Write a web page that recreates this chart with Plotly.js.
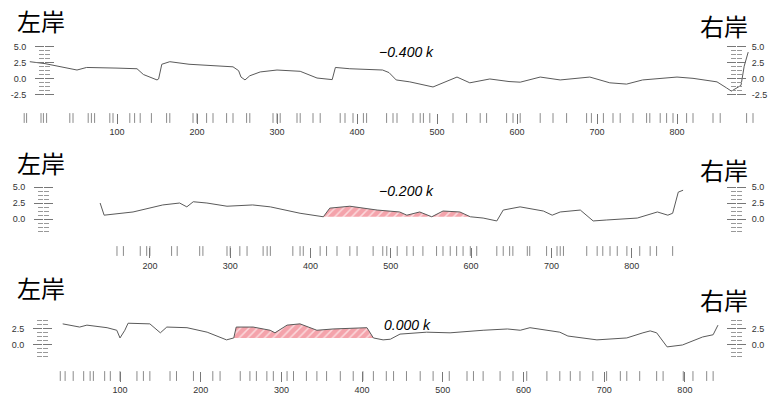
<!DOCTYPE html>
<html>
<head>
<meta charset="utf-8">
<script src="https://cdn.plot.ly/plotly-3.0.1.min.js"></script>
<style>html,body{margin:0;padding:0;background:#fff;}#chart{width:776px;height:394px;}</style>
</head>
<body>
<div id="chart"></div>
<script>
// ---------- data ----------
// Panel 1: -0.400 k
const p1Dist = [-9, 10, 30, 50, 62, 80, 100, 125, 133, 150, 152, 156, 166, 190, 204, 245, 252, 255, 260, 266, 279, 300, 329, 350, 369, 373, 391, 432, 440, 449, 466, 495, 525, 541, 566, 590, 604, 629, 654, 691, 716, 737, 757, 800, 820, 850, 862, 868, 880, 884, 889];
const p1Elev = [2.7, 2.4, 1.9, 1.4, 1.8, 1.8, 1.7, 1.6, 0.7, -0.15, 0.0, 2.3, 2.7, 2.3, 2.2, 1.9, 1.3, 0.3, -0.15, 0.5, 1.1, 1.4, 1.2, 0.15, -0.1, 1.8, 1.6, 1.4, 1.0, -0.15, -0.45, -1.25, 0.3, -0.6, 0.0, -0.4, -0.5, 0.3, -0.15, 0.3, -0.6, -0.8, -0.15, 0.3, 0.1, -0.45, -1.4, -1.9, -1.0, 2.0, 4.2];
const p1Rug = [-16, -13, 5, 8, 12, 41, 45, 64, 68, 72, 91, 95, 116, 122, 129, 143, 162, 166, 195, 200, 212, 220, 237, 245, 262, 266, 295, 300, 304, 325, 329, 345, 354, 379, 385, 395, 408, 412, 437, 445, 450, 470, 479, 483, 491, 520, 537, 554, 562, 587, 595, 604, 629, 645, 662, 687, 693, 708, 720, 729, 745, 762, 766, 779, 787, 795, 812, 820, 845, 854, 887, 895];
const p1Ticks = [100, 200, 300, 400, 500, 600, 700, 800];

// Panel 2: -0.200 k
const p2Dist = [138, 143, 179, 216, 237, 246, 254, 271, 296, 328, 350, 387, 416, 424, 449, 483, 511, 520, 536, 551, 565, 586, 599, 615, 632, 640, 661, 690, 701, 711, 736, 752, 769, 807, 832, 845, 851, 858, 864];
const p2Elev = [2.5, 0.6, 1.1, 2.2, 2.5, 1.9, 2.7, 2.5, 2.0, 2.2, 1.9, 0.9, 0.35, 1.7, 2.0, 1.4, 1.1, 0.6, 1.1, 0.35, 1.25, 1.1, 0.35, 0.15, -0.3, 1.4, 1.9, 1.25, 0.6, 1.1, 1.4, -0.3, -0.15, 0.15, 1.1, 0.6, 0.9, 4.2, 4.5];
const p2Rug = [159, 167, 188, 196, 200, 227, 234, 262, 266, 296, 300, 312, 321, 341, 346, 350, 378, 387, 391, 412, 420, 433, 449, 458, 478, 490, 495, 508, 520, 528, 540, 557, 565, 574, 582, 590, 599, 607, 632, 640, 648, 652, 670, 673, 694, 707, 711, 715, 744, 757, 764, 773, 782, 794, 810, 823, 831, 851];
const p2Ticks = [200, 300, 400, 500, 600, 700, 800];
const p2Water = {from: 416, to: 599, level: 0.35};

// Panel 3: 0.000 k
const p3Dist = [29, 50, 59, 84, 96, 100, 106, 110, 137, 150, 158, 183, 208, 232, 241, 244, 265, 286, 292, 307, 323, 344, 364, 406, 414, 426, 435, 447, 480, 509, 550, 580, 596, 608, 645, 655, 691, 728, 748, 757, 765, 778, 797, 822, 835, 841];
const p3Elev = [3.3, 2.8, 3.1, 2.7, 2.3, 1.1, 2.3, 3.4, 3.3, 1.9, 2.8, 2.7, 2.0, 0.8, 1.1, 2.8, 2.8, 2.3, 1.9, 3.1, 3.3, 2.3, 2.5, 2.7, 1.1, 0.8, 0.9, 1.7, 2.0, 1.9, 2.3, 2.5, 2.3, 2.7, 2.0, 1.4, 0.8, 1.1, 1.9, 2.2, 1.9, -0.3, 0.0, 1.25, 1.6, 3.1];
const p3Rug = [26, 32, 42, 55, 63, 67, 81, 88, 100, 121, 129, 137, 162, 170, 191, 215, 224, 249, 261, 269, 282, 290, 307, 315, 331, 344, 356, 373, 389, 401, 414, 430, 439, 455, 472, 488, 508, 530, 538, 550, 571, 587, 604, 629, 645, 658, 670, 686, 703, 720, 728, 744, 765, 773, 798, 810, 827, 835];
const p3Ticks = [100, 200, 300, 400, 500, 600, 700, 800];
const p3Water = {from: 241, to: 414, level: 1.1};

// y ladders
const ladder1Vals = [5, 2.5, 0, -2.5];
const ladder1Text = ["5.0", "2.5", "0.0", "-2.5"];
const ladder1Minor = [4.375, 3.75, 3.125, 1.875, 1.25, 0.625, -0.625, -1.25, -1.875];
const ladder2Vals = [5, 2.5, 0];
const ladder2Text = ["5.0", "2.5", "0.0"];
const ladder2Minor = [4.375, 3.75, 3.125, 1.875, 1.25, 0.625, -0.625, -1.25, -1.875];
const ladder3Vals = [2.5, 0];
const ladder3Text = ["2.5", "0.0"];
const ladder3Minor = [3.75, 3.125, 1.875, 1.25, 0.625, -0.625, -1.25, -1.875];

const sectionNames = ["\u22120.400 k", "\u22120.200 k", "0.000 k"];

// ---------- layout config ----------
const W = 776, H = 394;
const panels = [
  {dist: p1Dist, elev: p1Elev, rug: p1Rug, ticks: p1Ticks, water: null,
   lv: ladder1Vals, lt: ladder1Text, lm: ladder1Minor,
   xr: [-46.25, 923.75], yr: [-49.22, 12.34], axisY: 113, rugY: -6.1,
   leftX: 44, rightX: 736, name: {x: 406, y: 52}, lb: {y: 20}, rb: {y: 25}},
  {dist: p2Dist, elev: p2Elev, rug: p2Rug, ticks: p2Ticks, water: p2Water,
   lv: ladder2Vals, lt: ladder2Text, lm: ladder2Minor,
   xr: [13.33, 979.7], yr: [-27.34, 34.22], axisY: 247, rugY: -5.0,
   leftX: 43, rightX: 736, name: {x: 406, y: 191}, lb: {y: 162}, rb: {y: 169}},
  {dist: p3Dist, elev: p3Elev, rug: p3Rug, ticks: p3Ticks, water: p3Water,
   lv: ladder3Vals, lt: ladder3Text, lm: ladder3Minor,
   xr: [-48.7, 912.9], yr: [-7.66, 53.91], axisY: 371, rugY: -4.85,
   leftX: 42, rightX: 736, name: {x: 407, y: 325}, lb: {y: 287}, rb: {y: 299}}
];

const tickFont = {family: "Liberation Sans, Arial, sans-serif", size: 9, color: "#333"};
const traces = [];
const layout = {
  width: W, height: H,
  margin: {l: 0, r: 0, t: 0, b: 0},
  paper_bgcolor: "#fff", plot_bgcolor: "rgba(0,0,0,0)",
  showlegend: false,
  annotations: []
};

panels.forEach((p, i) => {
  const xk = i === 0 ? "x" : "x" + (i + 1);
  const xName = i === 0 ? "xaxis" : "xaxis" + (i + 1);
  const yBase = i * 4 + 1;
  const yIds = [0, 1, 2, 3].map(k => { const n = yBase + k; return n === 1 ? "y" : "y" + n; });
  const yNames = [0, 1, 2, 3].map(k => { const n = yBase + k; return n === 1 ? "yaxis" : "yaxis" + n; });

  layout[xName] = {
    domain: [0, 1], range: p.xr, anchor: "free", position: 1 - p.axisY / H,
    tickmode: "array", tickvals: p.ticks, ticks: "outside", ticklen: 10, tickwidth: 1, tickcolor: "#777",
    showline: false, showgrid: false, zeroline: false, tickfont: tickFont, fixedrange: true
  };
  const common = {domain: [0, 1], range: p.yr, anchor: "free", showline: false, showgrid: false,
    zeroline: false, tickmode: "array", tickvals: p.lv, tickwidth: 1, tickcolor: "#777", fixedrange: true};
  layout[yNames[0]] = Object.assign({}, common, {position: p.leftX / W, side: "left",
    ticks: "outside", ticklen: 9, ticktext: p.lt, tickfont: tickFont, ticklabelstandoff: 7,
    minor: {tickmode: "array", tickvals: p.lm, ticks: "outside", ticklen: 5, tickwidth: 1, tickcolor: "#999"}});
  layout[yNames[1]] = Object.assign({}, common, {position: p.leftX / W, side: "left", overlaying: yIds[0],
    ticks: "inside", ticklen: 9, showticklabels: false,
    minor: {tickmode: "array", tickvals: p.lm, ticks: "inside", ticklen: 5, tickwidth: 1, tickcolor: "#999"}});
  layout[yNames[2]] = Object.assign({}, common, {position: p.rightX / W, side: "right", overlaying: yIds[0],
    ticks: "outside", ticklen: 9, ticktext: p.lt, tickfont: tickFont, ticklabelstandoff: 4,
    minor: {tickmode: "array", tickvals: p.lm, ticks: "outside", ticklen: 5, tickwidth: 1, tickcolor: "#999"}});
  layout[yNames[3]] = Object.assign({}, common, {position: p.rightX / W, side: "right", overlaying: yIds[0],
    ticks: "inside", ticklen: 9, showticklabels: false,
    minor: {tickmode: "array", tickvals: p.lm, ticks: "inside", ticklen: 5, tickwidth: 1, tickcolor: "#999"}});

  for (let k = 1; k < 4; k++) {
    traces.push({type: "scatter", mode: "markers", x: [null], y: [null], xaxis: xk, yaxis: yIds[k], hoverinfo: "skip"});
  }

  if (p.water) {
    const w = p.water;
    const sx = [], sy = [];
    p.dist.forEach((d, j) => { if (d >= w.from && d <= w.to) { sx.push(d); sy.push(p.elev[j]); } });
    traces.push({type: "scatter", mode: "lines", x: [w.from, w.to], y: [w.level, w.level],
      xaxis: xk, yaxis: yIds[0], line: {width: 0, color: "rgba(0,0,0,0)"}, hoverinfo: "skip"});
    traces.push({type: "scatter", mode: "lines", x: sx, y: sy, xaxis: xk, yaxis: yIds[0],
      fill: "tonexty", fillcolor: "#f4a3ab",
      fillpattern: {shape: "/", fgcolor: "#fbd9dc", bgcolor: "#f4a3ab", size: 6, solidity: 0.25},
      line: {width: 0, color: "rgba(0,0,0,0)"}, hoverinfo: "skip"});
  }

  traces.push({type: "scatter", mode: "lines", x: p.dist, y: p.elev, xaxis: xk, yaxis: yIds[0],
    line: {color: "#5a5a5a", width: 1}, hoverinfo: "skip"});

  traces.push({type: "scatter", mode: "markers", x: p.rug, y: p.rug.map(() => p.rugY), xaxis: xk, yaxis: yIds[0],
    marker: {symbol: "line-ns", size: 7, line: {width: 1, color: "#8a8a8a"}}, hoverinfo: "skip"});

  layout.annotations.push({text: sectionNames[i], xref: "paper", yref: "paper",
    x: p.name.x / W, y: 1 - p.name.y / H, xanchor: "center", yanchor: "middle", showarrow: false,
    font: {family: "Liberation Sans, Arial, sans-serif", size: 14, color: "#000", style: "italic"}});
  layout.annotations.push({text: "左岸", xref: "paper", yref: "paper",
    x: 41 / W, y: 1 - p.lb.y / H, xanchor: "center", yanchor: "middle", showarrow: false,
    font: {family: "Noto Sans CJK JP, Noto Sans CJK SC, sans-serif", size: 24, color: "#000"}});
  layout.annotations.push({text: "右岸", xref: "paper", yref: "paper",
    x: 724 / W, y: 1 - p.rb.y / H, xanchor: "center", yanchor: "middle", showarrow: false,
    font: {family: "Noto Sans CJK JP, Noto Sans CJK SC, sans-serif", size: 24, color: "#000"}});
});

Plotly.newPlot("chart", traces, layout, {staticPlot: true, displayModeBar: false});
</script>
</body>
</html>
